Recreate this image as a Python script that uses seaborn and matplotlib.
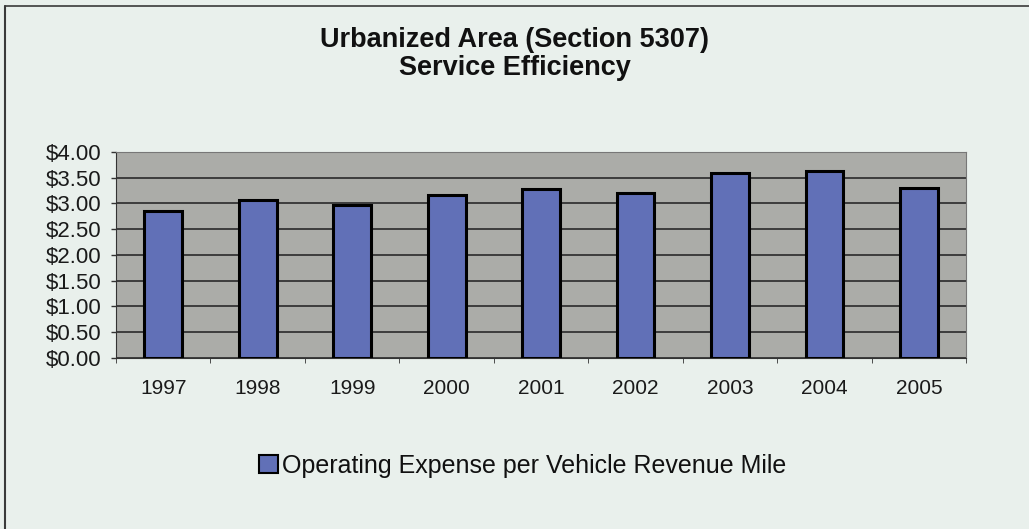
import numpy as np
import pandas as pd
import matplotlib.pyplot as plt
import seaborn as sns
from matplotlib.patches import Patch
from matplotlib.lines import Line2D

years = ['1997', '1998', '1999', '2000', '2001', '2002', '2003', '2004', '2005']
cost_per_mile = [2.85, 3.06, 2.97, 3.16, 3.29, 3.21, 3.60, 3.63, 3.31]
series_name = 'Operating Expense per Vehicle Revenue Mile'
y_ticks = [0, 0.5, 1.0, 1.5, 2.0, 2.5, 3.0, 3.5, 4.0]

df = pd.DataFrame({'Year': years, 'Cost': cost_per_mile})

sns.set_style('white')
plt.rcParams['font.family'] = ['Liberation Sans', 'DejaVu Sans']

W, H = 1029, 529
fig = plt.figure(figsize=(W / 100, H / 100), dpi=100, facecolor='#e9f0ec')
ax = fig.add_axes([0.1127, 0.3233, 0.8263, 0.3894])
ax.set_facecolor('#abaca8')

bar_col = '#6170b7'
sns.barplot(data=df, x='Year', y='Cost', color=bar_col, width=0.4,
            edgecolor='black', linewidth=2.2, saturation=1, ax=ax, zorder=3)

ax.set_ylim(0, 4)
ax.set_yticks(y_ticks)
ax.set_yticklabels(['${:.2f}'.format(v) for v in y_ticks], fontsize=16, color='#1a1a1a')
ax.set_xlim(-0.5, len(years) - 0.5)
ax.grid(axis='y', color='#2a2a2a', linewidth=1.2, zorder=1)
ax.set_axisbelow(True)
ax.set_xlabel('')
ax.set_ylabel('')
for s in ['top', 'right']:
    ax.spines[s].set_color('#777777')
for s in ['left', 'bottom']:
    ax.spines[s].set_color('#333333')

# excel style ticks: y ticks outside, x ticks between categories
ax.tick_params(axis='y', direction='out', length=3.6, color='#333333', width=1, pad=7, left=True)
ax.set_xticks(np.arange(len(years)), years)
ax.set_xticks(np.arange(len(years) + 1) - 0.5, minor=True)
ax.tick_params(axis='x', which='major', length=0, labelsize=15, pad=15, labelcolor='#1a1a1a')
ax.tick_params(axis='x', which='minor', direction='out', length=3.6, color='#333333', bottom=True)

fig.text(0.5, 0.898, 'Urbanized Area (Section 5307)\nService Efficiency',
         ha='center', va='center', fontsize=19.5, fontweight='bold', linespacing=1.1,
         color='#111111')

handle = Patch(facecolor=bar_col, edgecolor='black', linewidth=1.5)
fig.legend([handle], [series_name], loc='center', bbox_to_anchor=(0.508, 0.119),
           frameon=False, fontsize=18, handlelength=0.75, handleheight=0.75,
           handletextpad=0.15, labelcolor='#111111')

# border: only left and top edges visible in the scan
fig.lines.append(Line2D([5 / W, 5 / W], [0, 1 - 6 / H], transform=fig.transFigure,
                        color='#3a3a3a', linewidth=1.5))
fig.lines.append(Line2D([5 / W, 1], [1 - 6 / H, 1 - 6 / H], transform=fig.transFigure,
                        color='#3a3a3a', linewidth=1.2))

fig.savefig('out.png', dpi=100, facecolor=fig.get_facecolor())
